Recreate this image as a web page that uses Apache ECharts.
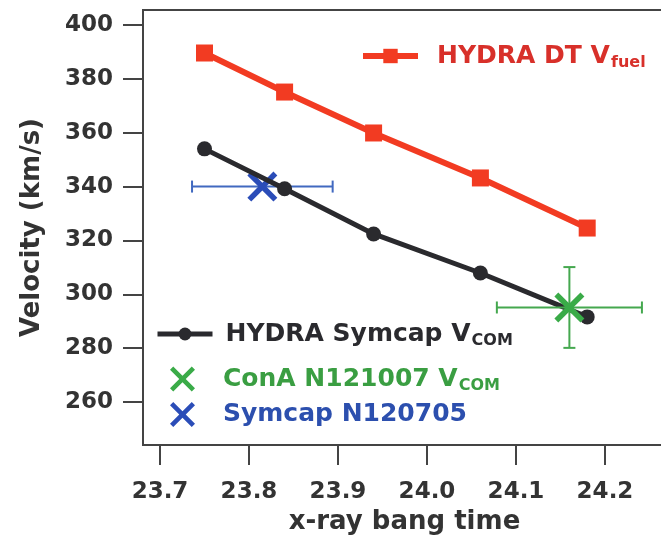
<!DOCTYPE html>
<html>
<head>
<meta charset="utf-8">
<script src="https://cdn.jsdelivr.net/npm/echarts@6/dist/echarts.min.js"></script>
<style>
  html, body { margin: 0; padding: 0; background: #fff; overflow: hidden; width: 661px; height: 541px; }
  #chart { width: 690px; height: 541px; }
</style>
</head>
<body>
<div id="chart"></div>
<script>
// bang times shared by both HYDRA runs
var bangTimes = [23.75, 23.84, 23.94, 24.06, 24.18];
var hydraFuel = [389.6, 375.1, 359.9, 343.2, 324.6];
var hydraCom = [354.0, 339.2, 322.4, 307.9, 291.6];
// measured shots: [time, velocity, time error, velocity error]
var conaShot = [[24.16, 295.1, 0.0815, 15.0]];
var symcapShot = [[23.815, 340.0, 0.079, 0]];
var xTicks = [23.7, 23.8, 23.9, 24.0, 24.1, 24.2];
var yTicks = [260, 280, 300, 320, 340, 360, 380, 400];

var FONT = '"DejaVu Sans", sans-serif';
var crossPath = 'path://M0,1.3 L1.3,0 L5,3.7 L8.7,0 L10,1.3 L6.3,5 L10,8.7 L8.7,10 L5,6.3 L1.3,10 L0,8.7 L3.7,5 Z';
// plot box runs past the right edge of the picture
var X_MIN = 23.6809, X_MAX = 24.2854;

function errorBars(color) {
  return function (params, api) {
    var c = api.coord([api.value(0), api.value(1)]);
    var l = api.coord([api.value(0) - api.value(2), api.value(1)]);
    var r = api.coord([api.value(0) + api.value(2), api.value(1)]);
    var t = api.coord([api.value(0), api.value(1) + api.value(3)]);
    var b = api.coord([api.value(0), api.value(1) - api.value(3)]);
    var cap = 6;
    var st = { stroke: color, lineWidth: 2 };
    var kids = [
      { type: 'line', shape: { x1: l[0], y1: c[1], x2: r[0], y2: c[1] }, style: st },
      { type: 'line', shape: { x1: l[0], y1: c[1] - cap, x2: l[0], y2: c[1] + cap }, style: st },
      { type: 'line', shape: { x1: r[0], y1: c[1] - cap, x2: r[0], y2: c[1] + cap }, style: st }
    ];
    if (api.value(3) > 0) {
      kids.push(
        { type: 'line', shape: { x1: c[0], y1: t[1], x2: c[0], y2: b[1] }, style: st },
        { type: 'line', shape: { x1: c[0] - cap, y1: t[1], x2: c[0] + cap, y2: t[1] }, style: st },
        { type: 'line', shape: { x1: c[0] - cap, y1: b[1], x2: c[0] + cap, y2: b[1] }, style: st }
      );
    }
    return { type: 'group', children: kids };
  };
}

function richText(color) {
  return {
    m: { fontFamily: FONT, fontWeight: 'bold', fontSize: 25, color: color, lineHeight: 30 },
    s: { fontFamily: FONT, fontWeight: 'bold', fontSize: 16, color: color, verticalAlign: 'bottom', lineHeight: 30, padding: [14, 0, 0, 1] }
  };
}

function legendFmt(name) {
  if (name === 'fuel') return '{m|HYDRA DT V}{s|fuel}';
  if (name === 'com') return '{m|HYDRA Symcap V}{s|COM}';
  if (name === 'cona') return '{m|ConA N121007 V}{s|COM}';
  return '{m|Symcap N120705}';
}

var axisStroke = { color: '#444', width: 2 };

var chart = echarts.init(document.getElementById('chart'));
chart.setOption({
  animation: false,
  grid: { left: 143, top: 10, right: 9, bottom: 96, show: true, borderColor: '#444', borderWidth: 2 },
  xAxis: {
    type: 'value', min: X_MIN, max: X_MAX,
    name: 'x-ray bang time', nameLocation: 'middle', nameGap: 58,
    nameTextStyle: { fontFamily: FONT, fontWeight: 'bold', fontSize: 26, color: '#333', padding: [0, 15, 0, 0] },
    axisLine: { show: true, lineStyle: axisStroke },
    axisTick: { show: true, length: 20, lineStyle: axisStroke, customValues: xTicks },
    axisLabel: { margin: 36, fontFamily: FONT, fontWeight: 'bold', fontSize: 23, color: '#333', customValues: xTicks,
      formatter: function (v) { return v.toFixed(1); } },
    splitLine: { show: false }
  },
  yAxis: {
    type: 'value', min: 244.03, max: 405.57,
    name: 'Velocity (km/s)', nameLocation: 'middle', nameGap: 98,
    nameTextStyle: { fontFamily: FONT, fontWeight: 'bold', fontSize: 26, color: '#333' },
    axisLine: { show: true, lineStyle: axisStroke },
    axisTick: { show: true, length: 20, lineStyle: axisStroke, customValues: yTicks },
    axisLabel: { margin: 30, fontFamily: FONT, fontWeight: 'bold', fontSize: 23, color: '#333', customValues: yTicks },
    splitLine: { show: false }
  },
  legend: [
    { data: ['fuel'], left: 355, top: 36, itemWidth: 55, itemHeight: 18, formatter: legendFmt,
      lineStyle: { width: 6 },
      textStyle: { rich: richText('#d8302a'), padding: [0, 0, 0, 14] } },
    { data: ['com'], left: 150, top: 314, itemWidth: 55, itemHeight: 16, formatter: legendFmt,
      lineStyle: { width: 5 },
      textStyle: { rich: richText('#2a2a2e'), padding: [0, 0, 0, 8] } },
    { data: ['cona'], left: 165, top: 359, itemWidth: 25, itemHeight: 25, formatter: legendFmt,
      itemStyle: { opacity: 1 },
      textStyle: { rich: richText('#3a9e42'), padding: [0, 0, 0, 23] } },
    { data: ['symcap'], left: 165, top: 397, itemWidth: 25, itemHeight: 25, formatter: legendFmt,
      itemStyle: { opacity: 1 },
      textStyle: { rich: richText('#2c4fae'), padding: [0, 0, 0, 23] } }
  ],
  series: [
    {
      name: 'fuel', type: 'line', data: bangTimes.map(function (t, i) { return [t, hydraFuel[i]]; }),
      symbol: 'rect', symbolSize: 17, lineStyle: { color: '#f23b22', width: 6 },
      itemStyle: { color: '#f23b22' }, z: 3
    },
    {
      name: 'symcapBars', type: 'custom', data: symcapShot, renderItem: errorBars('#4169c0'), z: 2
    },
    {
      name: 'symcap', type: 'scatter', data: symcapShot.map(function (d) { return [d[0], d[1]]; }),
      symbol: crossPath, symbolSize: 30, itemStyle: { color: '#2b4db8', opacity: 1 }, z: 2
    },
    {
      name: 'com', type: 'line', data: bangTimes.map(function (t, i) { return [t, hydraCom[i]]; }),
      symbol: 'circle', symbolSize: 15, lineStyle: { color: '#2a2a2e', width: 5 },
      itemStyle: { color: '#2a2a2e' }, z: 3
    },
    {
      name: 'conaBars', type: 'custom', data: conaShot, renderItem: errorBars('#45a84f'), z: 4
    },
    {
      name: 'cona', type: 'scatter', data: conaShot.map(function (d) { return [d[0], d[1]]; }),
      symbol: crossPath, symbolSize: 30, itemStyle: { color: '#3aab48', opacity: 1 }, z: 4
    }
  ]
});
</script>
</body>
</html>
